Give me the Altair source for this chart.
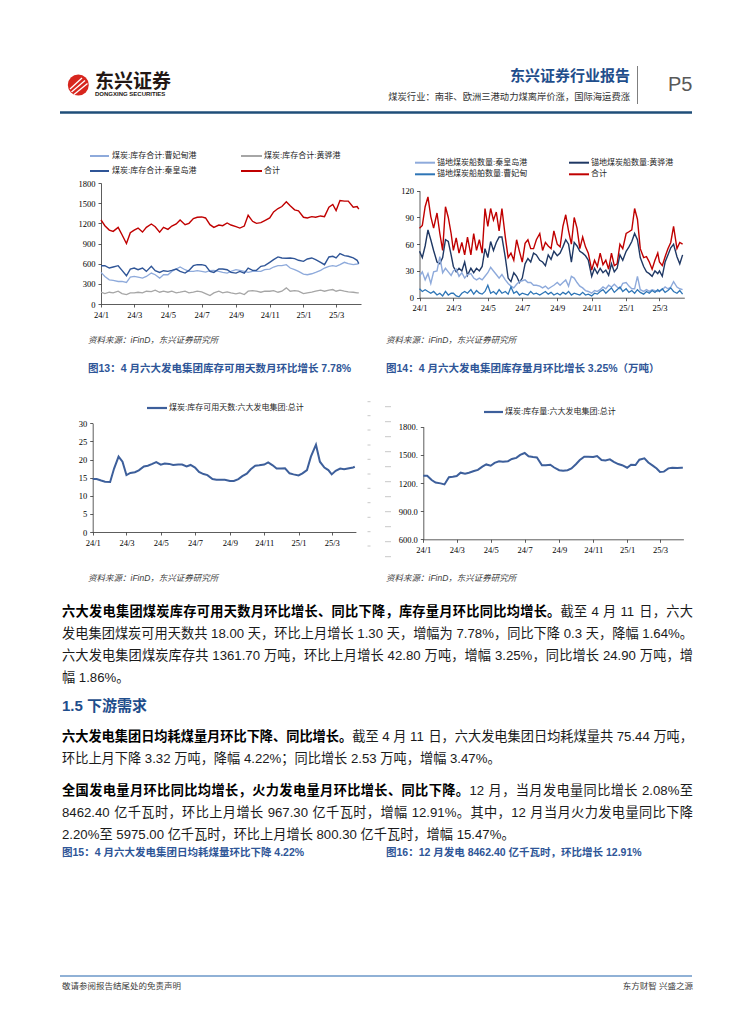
import altair as alt
import pandas as pd

W, H = 739, 1008
M = 8


def P(v):
    return v - M


CJK = "Liberation Sans, Noto Sans CJK SC"
SERIF = "Liberation Serif"
AX = "#333333"

# ---------------- data ----------------
DATES_A = [
    "2024-01-01", "2024-01-08", "2024-01-16", "2024-01-23",
    "2024-02-01", "2024-02-08", "2024-02-16", "2024-02-23",
    "2024-03-01", "2024-03-08", "2024-03-16", "2024-03-23",
    "2024-04-01", "2024-04-08", "2024-04-16", "2024-04-23",
    "2024-05-01", "2024-05-08", "2024-05-16", "2024-05-23",
    "2024-06-01", "2024-06-08", "2024-06-16", "2024-06-23",
    "2024-07-01", "2024-07-08", "2024-07-16", "2024-07-23",
    "2024-08-01", "2024-08-08", "2024-08-16", "2024-08-23",
    "2024-09-01", "2024-09-08", "2024-09-16", "2024-09-23",
    "2024-10-01", "2024-10-08", "2024-10-16", "2024-10-23",
    "2024-11-01", "2024-11-08", "2024-11-16", "2024-11-23",
    "2024-12-01", "2024-12-08", "2024-12-16", "2024-12-23",
    "2025-01-01", "2025-01-08", "2025-01-16", "2025-01-23",
    "2025-02-01", "2025-02-08", "2025-02-16", "2025-02-23",
    "2025-03-01", "2025-03-08", "2025-03-16", "2025-03-23",
    "2025-04-01", "2025-04-08", "2025-04-11",
]

DATES_B = [
    "2024-01-01", "2024-01-06", "2024-01-11", "2024-01-16", "2024-01-21", "2024-01-26",
    "2024-02-01", "2024-02-06", "2024-02-11", "2024-02-16", "2024-02-21", "2024-02-26",
    "2024-03-01", "2024-03-06", "2024-03-11", "2024-03-16", "2024-03-21", "2024-03-26",
    "2024-04-01", "2024-04-06", "2024-04-11", "2024-04-16", "2024-04-21", "2024-04-26",
    "2024-05-01", "2024-05-06", "2024-05-11", "2024-05-16", "2024-05-21", "2024-05-26",
    "2024-06-01", "2024-06-06", "2024-06-11", "2024-06-16", "2024-06-21", "2024-06-26",
    "2024-07-01", "2024-07-06", "2024-07-11", "2024-07-16", "2024-07-21", "2024-07-26",
    "2024-08-01", "2024-08-06", "2024-08-11", "2024-08-16", "2024-08-21", "2024-08-26",
    "2024-09-01", "2024-09-06", "2024-09-11", "2024-09-16", "2024-09-21", "2024-09-26",
    "2024-10-01", "2024-10-06", "2024-10-11", "2024-10-16", "2024-10-21", "2024-10-26",
    "2024-11-01", "2024-11-06", "2024-11-11", "2024-11-16", "2024-11-21", "2024-11-26",
    "2024-12-01", "2024-12-06", "2024-12-11", "2024-12-16", "2024-12-21", "2024-12-26",
    "2025-01-01", "2025-01-06", "2025-01-11", "2025-01-16", "2025-01-21", "2025-01-26",
    "2025-02-01", "2025-02-06", "2025-02-11", "2025-02-16", "2025-02-21", "2025-02-26",
    "2025-03-01", "2025-03-06", "2025-03-11", "2025-03-16", "2025-03-21", "2025-03-26",
    "2025-04-01", "2025-04-06", "2025-04-11",
]

# port coal inventory (10k t)
C1_CFD = [470, 410, 360, 350, 335, 335, 320, 400, 410, 400, 385, 410,
          460, 435, 385, 435, 435, 485, 520, 550, 510, 485, 485, 495,
          485, 475, 495, 500, 485, 470, 460, 485, 510, 500, 485, 470,
          485, 485, 485, 510, 520, 550, 570, 570, 585, 535, 510, 485,
          445, 435, 450, 470, 500, 535, 560, 570, 560, 585, 620, 600,
          585, 595, 600]
C1_HH = [175, 155, 175, 165, 190, 155, 140, 165, 165, 175, 165, 190,
         185, 205, 175, 190, 175, 190, 165, 175, 190, 165, 175, 190,
         180, 155, 125, 165, 190, 165, 180, 165, 150, 165, 140, 190,
         200, 190, 175, 190, 190, 200, 175, 190, 240, 190, 200, 190,
         155, 165, 175, 190, 205, 190, 205, 215, 190, 205, 190, 180,
         175, 165, 165]
C1_QHD = [570, 570, 535, 550, 570, 500, 420, 520, 535, 510, 535, 485,
          560, 495, 470, 495, 485, 500, 520, 485, 460, 500, 570, 585,
          585, 570, 485, 470, 520, 520, 510, 470, 460, 485, 460, 535,
          500, 500, 560, 570, 620, 660, 700, 685, 680, 685, 675, 650,
          635, 670, 685, 660, 620, 585, 700, 710, 685, 750, 720, 710,
          685, 650, 600]
C1_SUM = [1250, 1165, 1100, 1080, 1140, 1030, 900, 1060, 1100, 1130, 1070, 1140,
          1190, 1150, 1070, 1140, 1110, 1160, 1190, 1250, 1180, 1200, 1270, 1290,
          1295, 1280, 1180, 1140, 1175, 1165, 1205, 1175, 1150, 1130, 1160, 1320,
          1230, 1200, 1210, 1240, 1280, 1370, 1420, 1450, 1520, 1460, 1400, 1385,
          1290, 1280, 1300, 1290, 1310, 1300, 1440, 1480, 1390, 1540, 1530, 1530,
          1440, 1450, 1410]

# anchored coal ships
C2_QHD = [24, 29, 20, 27, 16, 29, 30, 46, 28, 33, 29, 25, 30, 32, 24, 28, 22, 26,
          27, 22, 20, 22, 20, 24, 28, 34, 30, 26, 22, 26, 20, 16, 13, 11, 15, 18,
          19, 20, 17, 17, 14, 14, 13, 11, 13, 10, 12, 14, 17, 14, 17, 20, 13, 24,
          22, 17, 13, 11, 8, 7, 5, 8, 7, 9, 12, 10, 14, 12, 15, 12, 10, 16,
          17, 13, 10, 10, 24, 9, 7, 9, 7, 9, 8, 7, 8, 9, 12, 10, 12, 18,
          12, 10, 9]
C2_HH = [52, 45, 58, 76, 65, 53, 40, 38, 45, 65, 63, 48, 35, 29, 33, 30, 40, 25,
         33, 28, 33, 30, 35, 55, 45, 63, 53, 62, 68, 68, 45, 22, 18, 28, 24, 17,
         22, 38, 44, 40, 50, 48, 42, 40, 36, 48, 43, 52, 47, 50, 57, 65, 60, 40,
         62, 58, 52, 50, 47, 42, 24, 33, 27, 33, 28, 31, 25, 38, 29, 33, 48, 42,
         52, 57, 63, 72, 65, 45, 35, 29, 27, 24, 30, 27, 30, 24, 40, 48, 56, 60,
         46, 38, 48]
C2_CFD = [10, 7, 9, 7, 5, 7, 3, 5, 2, 7, 3, 5, 5, 2, 1, 5, 7, 5,
          9, 4, 8, 5, 4, 7, 14, 5, 7, 4, 9, 5, 7, 4, 12, 5, 7, 3,
          5, 4, 3, 7, 4, 5, 3, 5, 7, 4, 6, 3, 5, 3, 6, 4, 7, 3,
          5, 4, 3, 6, 3, 4, 2, 5, 4, 7, 9, 5, 8, 11, 6, 9, 12, 7,
          10, 6, 8, 5, 9, 6, 4, 7, 5, 8, 6, 9, 7, 10, 6, 8, 11, 7,
          5, 8, 4]
C2_SUM = [78, 81, 102, 113, 91, 78, 95, 72, 53, 102, 90, 72, 53, 67, 50, 62, 48, 68,
          48, 72, 53, 65, 50, 100, 80, 100, 87, 96, 75, 100, 68, 45, 50, 42, 65, 52,
          40, 61, 65, 55, 55, 65, 72, 53, 62, 58, 55, 75, 60, 57, 80, 93, 75, 60,
          90, 78, 55, 68, 57, 50, 31, 42, 35, 50, 37, 42, 32, 50, 36, 38, 60, 55,
          72, 74, 76, 100, 88, 55, 45, 46, 40, 32, 42, 50, 40, 36, 46, 55, 62, 80,
          55, 62, 60]

# available days, six power groups
C3_DAYS = [14.6, 14.6, 14.2, 13.9, 13.8, 17.5, 20.8, 19.4, 15.7, 16.3, 16.5, 17.0,
           18.1, 18.3, 18.8, 19.3, 18.6, 18.9, 18.8, 18.5, 18.6, 18.6, 18.1, 18.5,
           17.8, 16.6, 16.0, 15.7, 14.6, 14.4, 14.4, 14.4, 14.1, 14.1, 14.6, 15.4,
           16.1, 17.3, 18.3, 18.4, 18.6, 19.2, 18.4, 17.5, 17.5, 17.6, 16.2, 15.9,
           15.6, 16.2, 17.1, 20.8, 24.1, 19.4, 17.8, 17.1, 15.9, 16.9, 17.5, 17.3,
           17.6, 17.8, 18.0]

# inventory, six power groups (10k t)
C4_STOCK = [1278, 1278, 1232, 1205, 1196, 1185, 1262, 1267, 1275, 1310, 1300, 1310,
            1328, 1340, 1375, 1398, 1384, 1415, 1432, 1426, 1432, 1456, 1468, 1500,
            1520, 1485, 1476, 1472, 1390, 1390, 1395, 1365, 1336, 1330, 1336, 1355,
            1400, 1445, 1480, 1480, 1477, 1487, 1445, 1440, 1452, 1425, 1402, 1390,
            1363, 1395, 1392, 1448, 1463, 1418, 1385, 1355, 1318, 1321, 1356, 1362,
            1360, 1363, 1362]

TICKS = ["2024-01-01", "2024-03-01", "2024-05-01", "2024-07-01",
         "2024-09-01", "2024-11-01", "2025-01-01", "2025-03-01"]

C1_Y = [0, 300, 600, 900, 1200, 1500, 1800]
C2_Y = [0, 30, 60, 90, 120]
C3_Y = [0, 5, 10, 15, 20, 25, 30]
C4_Y = [600, 900, 1200, 1500, 1800]

LIGHT = "#8eaadb"
GRAY = "#a6a6a6"
DBLUE = "#2f5597"
RED = "#c00000"
NAVY = "#1f3864"
MBLUE = "#2e75b6"
STEEL = "#3d5f9b"


# ---------------- helpers ----------------
def dt(s):
    y, m, d = (int(v) for v in s.split("-"))
    return alt.DateTime(year=y, month=m, date=d, utc=True)


def x_axis(y_page):
    return alt.Axis(values=[dt(t) for t in TICKS], format="%y/%-m", orient="bottom",
                    offset=P(y_page) - H, title=None, grid=False,
                    domainColor=AX, domainWidth=0.8, tickColor=AX, tickSize=3, tickWidth=0.8,
                    labelFont=SERIF, labelFontSize=8.5, labelColor="#000000", labelPadding=3,
                    labelFlush=False, labelOverlap=False)


def y_axis(x_page, vals, expr=None):
    kw = dict(values=vals, orient="left", offset=-P(x_page), title=None, grid=False,
              format="d",
              domainColor=AX, domainWidth=0.8, tickColor=AX, tickSize=3, tickWidth=0.8,
              labelFont=SERIF, labelFontSize=8.5, labelColor="#000000", labelPadding=3,
              labelOverlap=False)
    if expr:
        kw["labelExpr"] = expr
    return alt.Axis(**kw)


def line_layer(dates, vals, color, sw, xspec, yspec, xaxis=None, yaxis=None):
    d0, d1, x0, x1 = xspec
    v0, v1, yb, yt = yspec
    df = pd.DataFrame({"d": dates, "v": vals})
    return alt.Chart(df).mark_line(color=color, strokeWidth=sw).encode(
        x=alt.X("d:T", scale=alt.Scale(type="utc", domain=[dt(d0), dt(d1)], range=[P(x0), P(x1)]),
                axis=xaxis),
        y=alt.Y("v:Q", scale=alt.Scale(domain=[v0, v1], range=[P(yb), P(yt)], zero=False, nice=False),
                axis=yaxis),
    )


X1 = ("2024-01-01", "2025-04-15", 101, 361)
Y1 = (0, 1800, 304, 183)
X2 = ("2024-01-01", "2025-04-14", 419.5, 684.3)
Y2 = (0, 120, 297.7, 190.7)
X3 = ("2024-01-01", "2025-04-13", 92.7, 355.9)
Y3 = (0, 30, 532, 423.3)
X4 = ("2024-01-01", "2025-04-12", 423.3, 683.4)
Y4 = (600, 1800, 539.3, 426.7)

lines = [
    line_layer(DATES_A, C1_HH, GRAY, 1.3, X1, Y1, x_axis(304), y_axis(101, C1_Y)),
    line_layer(DATES_A, C1_CFD, LIGHT, 1.3, X1, Y1),
    line_layer(DATES_A, C1_QHD, DBLUE, 1.4, X1, Y1),
    line_layer(DATES_A, C1_SUM, RED, 1.4, X1, Y1),
    line_layer(DATES_B, C2_SUM, RED, 1.4, X2, Y2, x_axis(297.7), y_axis(419.5, C2_Y)),
    line_layer(DATES_B, C2_HH, NAVY, 1.4, X2, Y2),
    line_layer(DATES_B, C2_QHD, LIGHT, 1.4, X2, Y2),
    line_layer(DATES_B, C2_CFD, MBLUE, 1.3, X2, Y2),
    line_layer(DATES_A, C3_DAYS, STEEL, 2.0, X3, Y3, x_axis(532), y_axis(92.7, C3_Y)),
    line_layer(DATES_A, C4_STOCK, STEEL, 2.0, X4, Y4, x_axis(539.3),
               y_axis(423.3, C4_Y, "datum.value >= 1000 ? format(datum.value, 'd') + '.' : format(datum.value, '.1f')")),
]

# ---------------- texts ----------------
STYLES = {
    "logo": dict(font=CJK, fontSize=19, fontWeight="bold", color="#231815", align="left"),
    "logo_en": dict(font="Liberation Sans", fontSize=6, fontWeight="bold", color="#231815", align="left"),
    "title": dict(font=CJK, fontSize=15, fontWeight="bold", color="#1f4e8c", align="right"),
    "subtitle": dict(font=CJK, fontSize=9.3, color="#333333", align="right"),
    "page": dict(font="Liberation Sans", fontSize=20, color="#595959", align="left"),
    "legend": dict(font=CJK, fontSize=8, color="#262626", align="left"),
    "source": dict(font=CJK, fontSize=8.5, fontStyle="italic", color="#404040", align="left"),
    "caption": dict(font=CJK, fontSize=10.5, fontWeight="bold", color="#2e5597", align="left"),
    "body_b": dict(font=CJK, fontSize=13.2, fontWeight="bold", color="#000000", align="left"),
    "body": dict(font=CJK, fontSize=13.2, color="#1a1a1a", align="left"),
    "heading": dict(font=CJK, fontSize=15, fontWeight="bold", color="#1f4e8c", align="left"),
    "foot_l": dict(font=CJK, fontSize=8.5, color="#404040", align="left"),
    "foot_r": dict(font=CJK, fontSize=8.5, color="#404040", align="right"),
}

SRC = "资料来源：iFinD，东兴证券研究所"
TEXTS = [
    ("东兴证券", 95, 81.5, "logo"),
    ("DONGXING SECURITIES", 95, 94, "logo_en"),
    ("东兴证券行业报告", 630, 76, "title"),
    ("煤炭行业：南非、欧洲三港动力煤离岸价涨，国际海运费涨", 630, 97, "subtitle"),
    ("P5", 668, 85, "page"),
    ("煤炭:库存合计:曹妃甸港", 112, 156, "legend"),
    ("煤炭:库存合计:黄骅港", 264, 156, "legend"),
    ("煤炭:库存合计:秦皇岛港", 112, 171, "legend"),
    ("合计", 264, 171, "legend"),
    ("锚地煤炭船数量:秦皇岛港", 437, 162.7, "legend"),
    ("锚地煤炭船数量:黄骅港", 591, 162.7, "legend"),
    ("锚地煤炭船舶数量:曹妃甸", 437, 174.3, "legend"),
    ("合计", 591, 174.3, "legend"),
    ("煤炭:库存可用天数:六大发电集团:总计", 169, 408, "legend"),
    ("煤炭:库存量:六大发电集团:总计", 505, 412, "legend"),
    (SRC, 88, 340, "source"),
    (SRC, 386, 340, "source"),
    (SRC, 88, 578, "source"),
    (SRC, 386, 578, "source"),
    ("图13：4 月六大发电集团库存可用天数月环比增长 7.78%", 88, 369, "caption"),
    ("图14：4 月六大发电集团库存量月环比增长 3.25%（万吨）", 386, 369, "caption"),
    ("1.5 下游需求", 62, 706, "heading"),
    ("图15：4 月六大发电集团日均耗煤量环比下降 4.22%", 62, 853, "caption"),
    ("图16：12 月发电 8462.40 亿千瓦时，环比增长 12.91%", 386, 853, "caption"),
    ("敬请参阅报告结尾处的免责声明", 62, 986, "foot_l"),
    ("东方财智 兴盛之源", 693, 986, "foot_r"),
]

# body paragraphs: (y, [(segment, bold)], justified)
BODY = [
    (612, [("六大发电集团煤炭库存可用天数月环比增长、同比下降，库存量月环比同比均增长。", True),
           ("截至 4 月 11 日，六大", False)], True),
    (634, [("发电集团煤炭可用天数共 18.00 天，环比上月增长 1.30 天，增幅为 7.78%，同比下降 0.3 天，降幅 1.64%。", False)], True),
    (656, [("六大发电集团煤炭库存共 1361.70 万吨，环比上月增长 42.80 万吨，增幅 3.25%，同比增长 24.90 万吨，增", False)], True),
    (678, [("幅 1.86%。", False)], False),
    (737, [("六大发电集团日均耗煤量月环比下降、同比增长。", True),
           ("截至 4 月 11 日，六大发电集团日均耗煤量共 75.44 万吨，", False)], True),
    (759, [("环比上月下降 3.32 万吨，降幅 4.22%；同比增长 2.53 万吨，增幅 3.47%。", False)], False),
    (791, [("全国发电量月环比同比均增长，火力发电量月环比增长、同比下降。", True),
           ("12 月，当月发电量同比增长 2.08%至", False)], True),
    (813, [("8462.40 亿千瓦时，环比上月增长 967.30 亿千瓦时，增幅 12.91%。其中，12 月当月火力发电量同比下降", False)], True),
    (835, [("2.20%至 5975.00 亿千瓦时，环比上月增长 800.30 亿千瓦时，增幅 15.47%。", False)], False),
]
LEFT, RIGHT, FS = 62, 693, 13.2
ASCII_W = {".": 0.278, "%": 0.889, " ": 0.278}


def tok_width(t):
    if ord(t[0]) >= 128:
        return FS
    return FS * sum(ASCII_W.get(c, 0.556) for c in t)


def tokenize(segs):
    out = []
    for text, bold in segs:
        buf = ""
        for ch in text:
            if ord(ch) < 128 and ch != " ":
                buf += ch
                continue
            if buf:
                out.append((buf, bold))
                buf = ""
            out.append((ch, bold))
        if buf:
            out.append((buf, bold))
    return out


body_rows = []
for y, segs, just in BODY:
    toks = tokenize(segs)
    nat = sum(tok_width(t) for t, _ in toks)
    gap = (RIGHT - LEFT - nat) / (len(toks) - 1) if just else 0.0
    x = LEFT
    for t, bold in toks:
        if t != " ":
            body_rows.append((t, x, y, "body_b" if bold else "body"))
        x += tok_width(t) + gap
TEXTS += body_rows

text_layers = []
for key, props in STYLES.items():
    rows = [(t, P(x), P(y)) for (t, x, y, k) in TEXTS if k == key]
    if not rows:
        continue
    df = pd.DataFrame(rows, columns=["t", "x", "y"])
    text_layers.append(
        alt.Chart(df).mark_text(baseline="middle", **props).encode(
            x=alt.X("x:Q", scale=None, axis=None),
            y=alt.Y("y:Q", scale=None, axis=None),
            text="t:N",
        )
    )

# ---------------- rules (decor + legend samples) ----------------
RULES = [
    (60, 112.5, 692, 112.5, "#1f4e79", 2.5),
    (637.5, 66, 637.5, 104, "#7f7f7f", 1.0),
    (60, 976, 692, 976, "#6b97c8", 1.5),
    (90, 156, 109, 156, LIGHT, 2.0),
    (241, 156, 262, 156, GRAY, 2.0),
    (90, 171, 109, 171, DBLUE, 2.0),
    (241, 171, 262, 171, RED, 2.0),
    (415, 162.7, 435, 162.7, LIGHT, 2.0),
    (569, 162.7, 589, 162.7, NAVY, 2.0),
    (415, 174.3, 435, 174.3, MBLUE, 2.0),
    (569, 174.3, 589, 174.3, RED, 2.0),
    (147, 408, 167, 408, STEEL, 2.2),
    (484, 412, 503, 412, STEEL, 2.2),
]
DASH_L = [401.7, 415.7, 430, 445, 459.3, 474, 488.3, 502.7, 517.3, 531.7, 546]
DASH_R = [406.7, 421.7, 436.7, 451.7, 466.7, 481.7, 496.7, 511.7, 526.7, 541.7, 556.7]
for yy in DASH_L:
    RULES.append((367.5, yy, 370.5, yy, "#c8c8c8", 1.0))
for yy in DASH_R:
    RULES.append((385, yy, 391, yy, "#c8c8c8", 1.0))

rdf = pd.DataFrame([(P(a), P(b), P(c), P(d), col, w) for (a, b, c, d, col, w) in RULES],
                   columns=["x", "y", "x2", "y2", "c", "w"])
rule_layer = alt.Chart(rdf).mark_rule().encode(
    x=alt.X("x:Q", scale=None, axis=None),
    y=alt.Y("y:Q", scale=None, axis=None),
    x2="x2:Q", y2="y2:Q",
    color=alt.Color("c:N", scale=None, legend=None),
    strokeWidth=alt.StrokeWidth("w:Q", scale=None, legend=None),
)

# logo: red disc with white stripes
logo_df = pd.DataFrame({"x": [P(78.3)], "y": [P(85)]})
logo_disc = alt.Chart(logo_df).mark_circle(size=440, color="#d7261e", opacity=1).encode(
    x=alt.X("x:Q", scale=None, axis=None), y=alt.Y("y:Q", scale=None, axis=None))
STRIPES = [
    (70, 89, 82, 78), (71.5, 92, 85, 80.5), (74, 94.5, 87.5, 83.5),
]
sdf = pd.DataFrame([(P(a), P(b), P(c), P(d)) for (a, b, c, d) in STRIPES],
                   columns=["x", "y", "x2", "y2"])
logo_stripes = alt.Chart(sdf).mark_rule(color="white", strokeWidth=1.3).encode(
    x=alt.X("x:Q", scale=None, axis=None), y=alt.Y("y:Q", scale=None, axis=None),
    x2="x2:Q", y2="y2:Q")

chart = alt.layer(rule_layer, logo_disc, logo_stripes, *text_layers, *lines).resolve_scale(
    x="independent", y="independent"
).properties(
    width=W, height=H, padding=0, autosize=alt.AutoSizeParams(type="none"),
    background="white",
).configure_view(stroke=None)

chart.save("out.html", embed_options={"renderer": "svg", "actions": False})
